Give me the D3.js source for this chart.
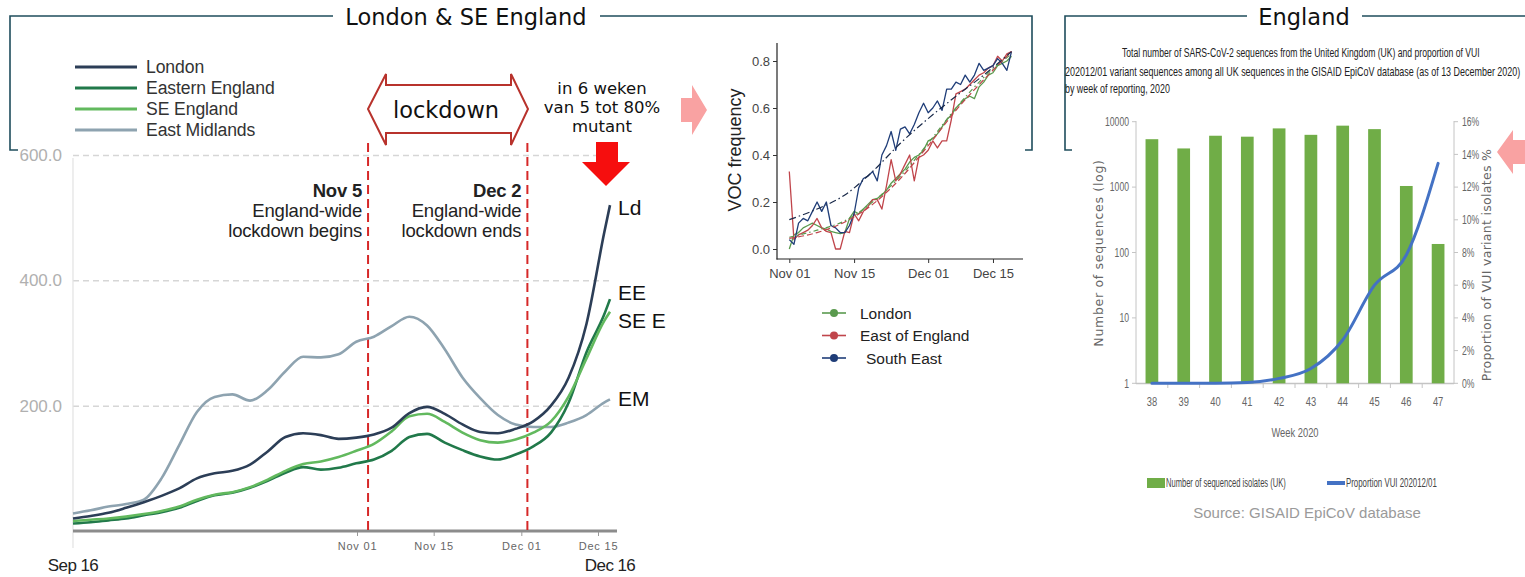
<!DOCTYPE html>
<html><head><meta charset="utf-8">
<script src="https://cdn.jsdelivr.net/npm/d3@7"></script>
<style>body{margin:0;background:#fff;}svg{display:block;font-family:"Liberation Sans",Arial,sans-serif;}</style>
</head><body><svg id="c" width="1525" height="577"></svg>
<script>
// ---------- Left chart: 7-day case rate per 100k ----------
const regionDates = ["2020-09-16","2020-09-19","2020-09-22","2020-09-25","2020-09-28","2020-10-01","2020-10-04","2020-10-07","2020-10-10","2020-10-13","2020-10-16","2020-10-19","2020-10-22","2020-10-25","2020-10-28","2020-10-31","2020-11-03","2020-11-06","2020-11-09","2020-11-12","2020-11-15","2020-11-18","2020-11-21","2020-11-24","2020-11-27","2020-11-30","2020-12-03","2020-12-06","2020-12-09","2020-12-12","2020-12-15","2020-12-16"];
const london          = [20,24,29,37,46,56,68,84,92,96,106,127,150,156,153,147,149,154,165,188,198,187,170,158,156,163,175,200,245,330,475,520];
const easternEngland  = [12,14,17,20,25,30,37,48,57,61,69,80,93,102,98,101,108,114,128,150,155,141,129,119,114,122,135,157,205,285,345,370];
const seEngland       = [16,18,20,23,27,32,39,50,58,62,70,82,96,107,111,118,128,139,159,183,187,174,157,145,141,146,157,175,215,275,335,350];
const eastMidlands    = [28,33,39,43,50,84,137,190,214,218,208,225,255,278,277,282,302,310,327,342,328,290,245,212,185,170,166,166,173,185,205,210];
const regionNames  = ["London","Eastern England","SE England","East Midlands"];
const regionShort  = ["Ld","EE","SE E","EM"];
const leftYTicks   = [200,400,600];
const leftXTicks   = ["2020-11-01","2020-11-15","2020-12-01","2020-12-15"];
const leftXEnds    = ["2020-09-16","2020-12-16"];
const lockdownDates = ["2020-11-05","2020-12-02"];
const lockdownNotes = [["Nov 5","England-wide","lockdown begins"],["Dec 2","England-wide","lockdown ends"]];
const mutantNote = ["in 6 weken","van 5 tot 80%","mutant"];

// ---------- Middle chart: VOC frequency ----------
const vocStart = "2020-11-01";
const vocLondon = [0.00,0.06,0.07,0.09,0.10,0.11,0.10,0.09,0.085,0.075,0.07,0.065,0.07,0.13,0.16,0.15,0.17,0.19,0.21,0.215,0.23,0.25,0.28,0.30,0.32,0.34,0.37,0.39,0.40,0.42,0.46,0.47,0.49,0.52,0.55,0.57,0.60,0.62,0.64,0.65,0.64,0.69,0.71,0.74,0.75,0.78,0.79,0.80,0.82];
const vocEast   = [0.33,0.04,0.06,0.07,0.08,0.10,0.13,0.09,0.075,0.07,0.00,0.00,0.075,0.07,0.15,0.12,0.16,0.18,0.21,0.21,0.17,0.27,0.38,0.29,0.32,0.36,0.40,0.29,0.39,0.40,0.42,0.46,0.43,0.46,0.46,0.55,0.66,0.67,0.68,0.70,0.72,0.74,0.75,0.77,0.78,0.82,0.80,0.83,0.84];
const vocSouthEast = [0.04,0.02,0.11,0.13,0.12,0.16,0.20,0.16,0.20,0.10,0.09,0.07,0.07,0.10,0.15,0.26,0.30,0.31,0.33,0.29,0.40,0.44,0.50,0.42,0.51,0.52,0.49,0.53,0.58,0.62,0.58,0.60,0.63,0.59,0.68,0.68,0.71,0.70,0.74,0.71,0.74,0.79,0.76,0.77,0.78,0.81,0.79,0.76,0.84];
const trendDays = [0,6,12,18,24,30,36,42,48];
const trendLondon    = [0.05,0.08,0.12,0.20,0.31,0.45,0.60,0.73,0.83];
const trendEast      = [0.045,0.07,0.115,0.19,0.30,0.44,0.59,0.72,0.84];
const trendSouthEast = [0.125,0.17,0.23,0.33,0.45,0.555,0.65,0.74,0.84];
const vocNames = ["London","East of England","South East"];
const vocYTicks = [0,0.2,0.4,0.6,0.8];
const vocXTicks = ["2020-11-01","2020-11-15","2020-12-01","2020-12-15"];

// ---------- Right chart: UK sequences ----------
const weeks = ["38","39","40","41","42","43","44","45","46","47"];
const seqCounts = [5400,3900,6100,5900,7900,6300,8700,7700,1040,135];
const vuiProportion = [0,0,0,0.05,0.3,0.9,2.65,6.0,7.85,13.45];
const seqTicks = [1,10,100,1000,10000];
const propTicks = [0,2,4,6,8,10,12,14,16];
const captionLines = ["Total number of SARS-CoV-2 sequences from the United Kingdom (UK) and proportion of VUI","202012/01 variant sequences among all UK sequences in the GISAID EpiCoV database (as of 13 December 2020)","by week of reporting, 2020"];

// =====================================================================
const parse = d3.timeParse("%Y-%m-%d");
const svg = d3.select("#c");
svg.append("rect").attr("width",1525).attr("height",577).attr("fill","#fff");
const FR = "#1f4d5c";
const DV = "'DejaVu Sans',Verdana,sans-serif";

function fitText(x, y, s, width, size, fill, anchor){
  const t = svg.append("text").attr("font-size",size).attr("fill",fill).attr("text-anchor",anchor||"start").text(s);
  const w = t.node().getComputedTextLength();
  t.attr("transform",`translate(${x},${y}) scale(${width/w},1)`);
  return t;
}

// frames + titles
svg.append("path").attr("d","M18,150H10V16H333M600,16H1032V150H1025").attr("fill","none").attr("stroke",FR).attr("stroke-width",1.6);
svg.append("path").attr("d","M1072,150H1065V16H1247M1362,16H1525").attr("fill","none").attr("stroke",FR).attr("stroke-width",1.6);
svg.append("text").attr("x",466).attr("y",25).attr("text-anchor","middle").attr("font-family",DV).attr("font-size",22.5).attr("fill","#111").text("London & SE England");
svg.append("text").attr("x",1304).attr("y",25).attr("text-anchor","middle").attr("font-family",DV).attr("font-size",22.5).attr("fill","#111").text("England");

// ---------------- Left chart ----------------
const rDates = regionDates.map(parse);
const x1 = d3.scaleTime().domain([parse(leftXEnds[0]), parse(leftXEnds[1])]).range([73,610]);
const x1axis = d3.scaleTime().domain([parse(leftXTicks[0]), parse(leftXTicks[3])]).range([357,598]);
const y1 = d3.scaleLinear().domain([0,600]).range([531,155]);
const colors1 = ["#2c3e57","#21794a","#62b95e","#8ea3b0"];

const gy = svg.append("g").attr("transform","translate(73,0)")
  .call(d3.axisLeft(y1).tickValues(leftYTicks).tickSize(-540).tickFormat(d3.format(".1f")));
gy.select(".domain").remove();
gy.selectAll(".tick line").attr("stroke","#d6d6d6").attr("stroke-width",1.5).attr("stroke-dasharray","6,4");
gy.selectAll(".tick text").attr("x",-11).attr("fill","#b0b0b0").attr("font-size",17).attr("font-family","'Liberation Sans',Arial");
svg.append("line").attr("x1",73).attr("x2",73).attr("y1",158).attr("y2",548).attr("stroke","#e2e2e2").attr("stroke-width",1.2);
svg.append("line").attr("x1",73).attr("x2",617).attr("y1",y1(0)).attr("y2",y1(0)).attr("stroke","#8c8c8c").attr("stroke-width",3);

const gx = svg.append("g").attr("transform",`translate(0,${y1(0)+1})`)
  .call(d3.axisBottom(x1axis).tickValues(leftXTicks.map(parse)).tickSize(4).tickPadding(6).tickFormat(d3.timeFormat("%b %d")));
gx.select(".domain").remove();
gx.selectAll(".tick line").attr("stroke","#999");
gx.selectAll(".tick text").attr("fill","#666").attr("font-size",11).attr("letter-spacing","0.8px").attr("font-family","'Liberation Sans',Arial");

svg.selectAll("text.ends").data(leftXEnds).join("text").attr("class","ends")
  .attr("x",d=>x1(parse(d))).attr("y",571).attr("text-anchor","middle").attr("font-size",17).attr("letter-spacing","-0.6px").attr("fill","#222")
  .text(d=>d3.timeFormat("%b %-d")(parse(d)));

svg.selectAll("line.ld").data(lockdownDates).join("line").attr("class","ld")
  .attr("x1",d=>x1(parse(d))).attr("x2",d=>x1(parse(d))).attr("y1",143).attr("y2",y1(0))
  .attr("stroke","#d62828").attr("stroke-width",2).attr("stroke-dasharray","9,5");

lockdownDates.forEach((d,i)=>{
  const xx = x1(parse(d))-6;
  const t = svg.append("text").attr("x",xx).attr("y",197).attr("text-anchor","end").attr("font-size",18.5).attr("fill","#222").attr("letter-spacing","-0.2px");
  lockdownNotes[i].forEach((s,j)=>{
    t.append("tspan").attr("x",xx).attr("dy",j?20:0).attr("font-weight",j?"normal":"bold").text(s);
  });
});

const series1 = [eastMidlands, easternEngland, seEngland, london];
const seriesIdx = [3,1,2,0];
const line1 = d3.line().x((d,i)=>x1(rDates[i])).y(d=>y1(d)).curve(d3.curveMonotoneX);
svg.selectAll("path.reg").data(series1).join("path").attr("class","reg")
  .attr("d",line1).attr("fill","none").attr("stroke",(d,i)=>colors1[seriesIdx[i]]).attr("stroke-width",2.6).attr("stroke-linejoin","round");

const endLabelY = [215,300,328,406];
regionShort.forEach((s,i)=>{
  svg.append("text").attr("x",618).attr("y",endLabelY[i]).attr("font-size",21).attr("fill","#111").text(s);
});

regionNames.forEach((n,i)=>{
  const y = 67 + i*21;
  svg.append("line").attr("x1",75).attr("x2",137).attr("y1",y).attr("y2",y).attr("stroke",colors1[i]).attr("stroke-width",3.2);
  svg.append("text").attr("x",146).attr("y",y).attr("dy","0.36em").attr("font-size",17.6).attr("letter-spacing","-0.1px").attr("fill","#333").text(n);
});

svg.append("path").attr("d","M368,109L386,74V85H511V74L528,109L511,145V133H386V145Z")
  .attr("fill","#fff").attr("stroke","#b8322c").attr("stroke-width",2).attr("stroke-linejoin","miter");
svg.append("text").attr("x",446).attr("y",118).attr("text-anchor","middle").attr("font-family",DV).attr("font-size",22.5).attr("fill","#111").text("lockdown");

mutantNote.forEach((s,i)=>{
  svg.append("text").attr("x",602).attr("y",94+i*19).attr("text-anchor","middle").attr("font-family",DV).attr("font-size",16.5).attr("fill","#111").text(s);
});
svg.append("path").attr("d","M596,142H618V162H630L606,186L582,162H596Z").attr("fill","#f60e0e");
svg.append("path").attr("d","M681,98H692V85L707,110L692,135V122H681Z").attr("fill","#f9a2a2");
svg.append("path").attr("d","M1525,140H1513V130L1497,152L1513,174V164H1525Z").attr("fill","#f9a2a2");

// ---------------- Middle chart ----------------
const v0 = parse(vocStart);
const x2 = d3.scaleTime().domain([v0, d3.timeDay.offset(v0,48)]).range([789.3,1011.5]);
const y2 = d3.scaleLinear().domain([0,0.8]).range([249,61]);
svg.append("line").attr("x1",777).attr("x2",777).attr("y1",43).attr("y2",259.5).attr("stroke","#222").attr("stroke-width",1.2);
svg.append("line").attr("x1",776.5).attr("x2",1023).attr("y1",259).attr("y2",259).attr("stroke","#222").attr("stroke-width",1.2);
const gy2 = svg.append("g").attr("transform","translate(777,0)").call(d3.axisLeft(y2).tickValues(vocYTicks).tickSize(4).tickPadding(3).tickFormat(d3.format(".1f")));
gy2.select(".domain").remove();
gy2.selectAll(".tick line").attr("stroke","#333");
gy2.selectAll(".tick text").attr("fill","#444").attr("font-size",13).attr("font-family","'Liberation Sans',Arial");
const gx2 = svg.append("g").attr("transform","translate(0,259)").call(d3.axisBottom(x2).tickValues(vocXTicks.map(parse)).tickSize(4).tickPadding(6).tickFormat(d3.timeFormat("%b %d")));
gx2.select(".domain").remove();
gx2.selectAll(".tick line").attr("stroke","#333");
gx2.selectAll(".tick text").attr("fill","#444").attr("font-size",13).attr("font-family","'Liberation Sans',Arial");
svg.append("text").attr("transform","translate(741,150) rotate(-90)").attr("text-anchor","middle").attr("font-size",18).attr("fill","#222").text("VOC frequency");

const vocColors = ["#5a9a4e","#c0454b","#1f3d78"];
const vocSeries = [vocLondon, vocEast, vocSouthEast];
const line2 = d3.line().x((d,i)=>x2(d3.timeDay.offset(v0,i))).y(d=>y2(d));
const trendSeries = [trendLondon, trendEast, trendSouthEast];
const trendDash = ["5,3,1.5,3","6,3","7,3,1.5,3"];
const line2t = d3.line().x((d,i)=>x2(d3.timeDay.offset(v0,trendDays[i]))).y(d=>y2(d)).curve(d3.curveMonotoneX);
vocSeries.forEach((s,i)=>{
  svg.append("path").attr("d",line2(s)).attr("fill","none").attr("stroke",vocColors[i]).attr("stroke-width",1.3).attr("stroke-linejoin","round");
});
trendSeries.forEach((s,i)=>{
  svg.append("path").attr("d",line2t(s)).attr("fill","none").attr("stroke",i===2?"#1a2a4a":vocColors[i]).attr("stroke-width",1.2).attr("stroke-dasharray",trendDash[i]);
});
vocNames.forEach((n,i)=>{
  const y = 313 + i*22.5;
  svg.append("line").attr("x1",822).attr("x2",846).attr("y1",y).attr("y2",y).attr("stroke",vocColors[i]).attr("stroke-width",1.6);
  svg.append("circle").attr("cx",834).attr("cy",y).attr("r",4).attr("fill",vocColors[i]);
  svg.append("text").attr("x",i===2?866:860).attr("y",y).attr("dy","0.36em").attr("font-size",15.5).attr("fill","#222").text(n);
});

// ---------------- Right chart ----------------
captionLines.forEach((s,i)=>{
  fitText(i===0?1122:1065, [57,76,93][i], s, [358,456,105][i], 12.5, "#222");
});
const xb = d3.scaleBand().domain(weeks).range([1136,1454]).paddingInner(0.6).paddingOuter(0.3);
const yl = d3.scaleLog().domain([1,10000]).range([383.3,121.7]);
const yp = d3.scaleLinear().domain([0,16]).range([383.3,121.7]);
const ax = "#c4c4c4";
svg.append("line").attr("x1",1136).attr("x2",1136).attr("y1",121).attr("y2",384).attr("stroke",ax);
svg.append("line").attr("x1",1454).attr("x2",1454).attr("y1",121).attr("y2",384).attr("stroke",ax);
svg.append("line").attr("x1",1136).attr("x2",1454).attr("y1",383.5).attr("y2",383.5).attr("stroke",ax).attr("stroke-width",1.3);
seqTicks.forEach(t=>{
  svg.append("line").attr("x1",1132).attr("x2",1136).attr("y1",yl(t)).attr("y2",yl(t)).attr("stroke",ax);
  svg.append("text").attr("transform",`translate(1129,${yl(t)}) scale(0.72,1)`).attr("text-anchor","end").attr("dy","0.35em").attr("font-size",12).attr("fill","#666").text(t);
});
propTicks.forEach(t=>{
  svg.append("line").attr("x1",1454).attr("x2",1458).attr("y1",yp(t)).attr("y2",yp(t)).attr("stroke",ax);
  svg.append("text").attr("transform",`translate(1462,${yp(t)}) scale(0.72,1)`).attr("dy","0.35em").attr("font-size",12).attr("fill","#666").text(t+"%");
});
weeks.forEach((w,i)=>{
  const bx = 1136 + xb.step()*(i+1);
  if(i<weeks.length-1) svg.append("line").attr("x1",bx).attr("x2",bx).attr("y1",383).attr("y2",388).attr("stroke",ax);
  svg.append("text").attr("transform",`translate(${xb(w)+xb.bandwidth()/2},406) scale(0.72,1)`).attr("text-anchor","middle").attr("font-size",13).attr("fill","#666").text(w);
});
svg.append("text").attr("transform","translate(1295,437) scale(0.72,1)").attr("text-anchor","middle").attr("font-size",13).attr("fill","#666").text("Week 2020");
svg.selectAll("rect.bar").data(seqCounts).join("rect").attr("class","bar")
  .attr("x",(d,i)=>xb(weeks[i])).attr("width",xb.bandwidth()).attr("y",d=>yl(d)).attr("height",d=>yl(1)-yl(d)).attr("fill","#70ad47");
const lineP = d3.line().x((d,i)=>xb(weeks[i])+xb.bandwidth()/2).y(d=>yp(d)).curve(d3.curveMonotoneX);
svg.append("path").attr("d",lineP(vuiProportion)).attr("fill","none").attr("stroke","#4472c4").attr("stroke-width",3).attr("stroke-linecap","round");
svg.append("text").attr("transform","translate(1103,253) rotate(-90)").attr("text-anchor","middle").attr("font-family",DV).attr("font-size",12.5).attr("letter-spacing","0.7px").attr("fill","#666").text("Number of sequences (log)");
svg.append("text").attr("transform","translate(1491,265) rotate(-90)").attr("text-anchor","middle").attr("font-family",DV).attr("font-size",12.5).attr("letter-spacing","0.3px").attr("fill","#666").text("Proportion of VUI variant isolates %");
svg.append("rect").attr("x",1147).attr("y",478).attr("width",18).attr("height",10).attr("fill","#70ad47");
fitText(1166, 487, "Number of sequenced isolates (UK)", 120, 12, "#444");
svg.append("line").attr("x1",1327).attr("x2",1345).attr("y1",483).attr("y2",483).attr("stroke","#4472c4").attr("stroke-width",4);
fitText(1346, 487, "Proportion VUI 202012/01", 91, 12, "#444");
svg.append("text").attr("x",1307).attr("y",518).attr("text-anchor","middle").attr("font-size",15).attr("fill","#9a9a9a").text("Source: GISAID EpiCoV database");
</script></body></html>
